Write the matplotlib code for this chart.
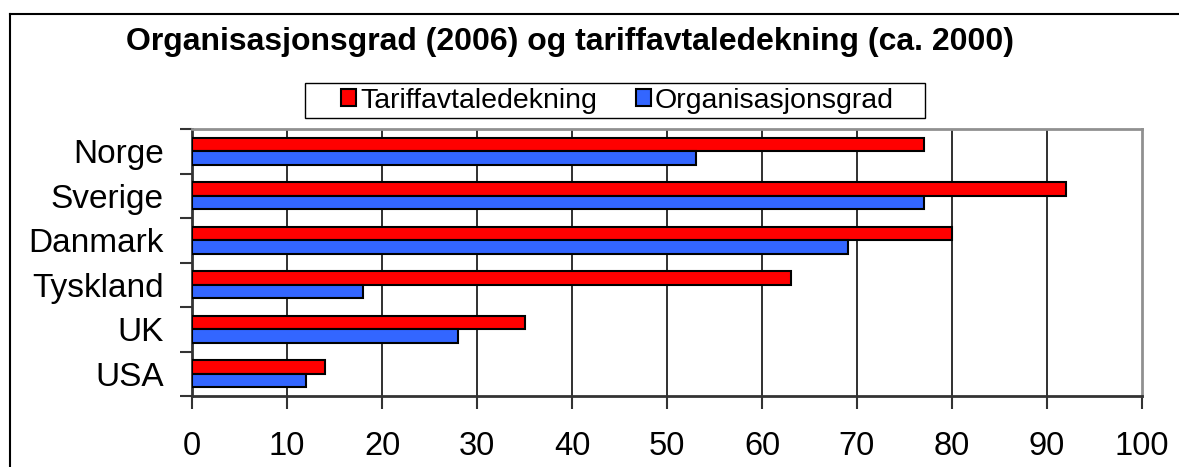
import numpy as np
import matplotlib.pyplot as plt
from matplotlib.patches import Patch, Rectangle
from matplotlib.lines import Line2D

# data
countries = ['Norge', 'Sverige', 'Danmark', 'Tyskland', 'UK', 'USA']
tariff = [77, 92, 80, 63, 35, 14]       # Tariffavtaledekning
organised = [53, 77, 69, 18, 28, 12]    # Organisasjonsgrad
xticks = [0, 10, 20, 30, 40, 50, 60, 70, 80, 90, 100]

plt.rcParams['font.family'] = ['Liberation Sans', 'DejaVu Sans']

W, H = 1179, 467
fig = plt.figure(figsize=[W/100, H/100], dpi=100)
ax = fig.add_axes([192/W, 1 - 396/H, (1142 - 192)/W, (396 - 129)/H])

y = np.arange(len(countries))
h = 0.3
ax.barh(y - h/2, tariff, height=h, color='#ff0000', edgecolor='black', linewidth=1.5, zorder=3)
ax.barh(y + h/2, organised, height=h, color='#3366ff', edgecolor='black', linewidth=1.5, zorder=3)

ax.set_xlim(0, 100)
ax.set_ylim(len(countries) - 0.5, -0.5)

# gridlines at each 10
for v in xticks[1:-1]:
    ax.axvline(v, color='#202020', linewidth=1.3, zorder=1)

ax.set_xticks(xticks)
ax.set_xticklabels([str(v) for v in xticks], fontsize=23.5)
ax.set_yticks(y)
ax.set_yticklabels(countries, fontsize=24)
ax.set_yticks(np.arange(len(countries) + 1) - 0.5, minor=True)
ax.tick_params(axis='y', which='major', length=0, pad=20.5)
ax.tick_params(axis='y', which='minor', length=9, width=1.5, direction='out', color='#333333')
ax.tick_params(axis='x', length=9, width=1.5, direction='out', pad=16, color='#333333')

for side in ['left', 'bottom']:
    ax.spines[side].set_color('#333333')
    ax.spines[side].set_linewidth(2)
for side in ['top', 'right']:
    ax.spines[side].set_color('#909090')
    ax.spines[side].set_linewidth(2)

# legend: box drawn separately, entries placed inside it
fig.add_artist(Rectangle((305/W, 1 - 118/H), 620/W, 35/H, transform=fig.transFigure,
                         facecolor='white', edgecolor='black', linewidth=1.0))
handles = [Patch(facecolor='#ff0000', edgecolor='black', linewidth=1.5),
           Patch(facecolor='#3366ff', edgecolor='black', linewidth=1.5)]
leg = fig.legend(handles, ['Tariffavtaledekning', 'Organisasjonsgrad'],
                 loc='center left', bbox_to_anchor=(341/W, 1 - 100.5/H), ncol=2,
                 fontsize=20.5, frameon=False, handlelength=0.53,
                 handleheight=0.53, handletextpad=0.15, columnspacing=1.35,
                 borderpad=0, borderaxespad=0)

fig.text(570/W, 1 - 42/H, 'Organisasjonsgrad (2006) og tariffavtaledekning (ca. 2000)',
         ha='center', va='center', fontsize=23, fontweight='bold')

# outer frame of the chart area (left and top edges visible)
fig.add_artist(Line2D([10/W, 10/W], [0, 1 - 14/H], color='black', linewidth=1.5,
                      transform=fig.transFigure))
fig.add_artist(Line2D([10/W, 1], [1 - 14/H, 1 - 14/H], color='black', linewidth=1.5,
                      transform=fig.transFigure))

fig.savefig('out.png', dpi=100)
